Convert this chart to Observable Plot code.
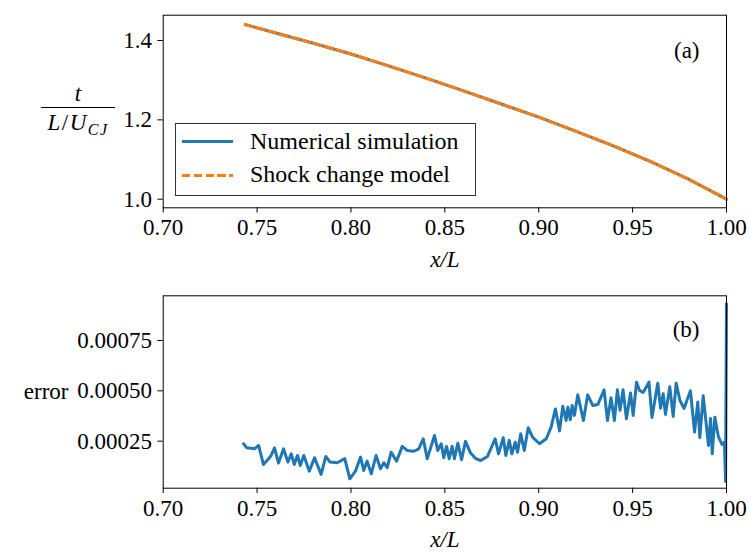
<!DOCTYPE html>
<html><head><meta charset="utf-8">
<script src="https://cdn.jsdelivr.net/npm/d3@7"></script>
<script src="https://cdn.jsdelivr.net/npm/@observablehq/plot@0.6"></script>
<style>
body{margin:0;background:#fff;}
#wrap{position:relative;width:749px;height:552px;overflow:hidden;font-family:"Liberation Serif","Times New Roman",Tinos,"DejaVu Serif",serif;color:#000;background:#fff;}
#wrap svg{display:block;}
#wrap svg text{font-family:"Liberation Serif","Times New Roman",Tinos,"DejaVu Serif",serif;}
.abs{position:absolute;white-space:nowrap;font-size:23px;line-height:23px;}
</style></head><body>
<div id="wrap"></div>
<script>
// ---- data ----
const xTop   = [0.7437,0.76,0.78,0.80,0.82,0.84,0.86,0.88,0.90,0.92,0.94,0.96,0.98,1.00];
const numT   = [1.440,1.419,1.393,1.366,1.336,1.305,1.273,1.240,1.207,1.171,1.134,1.094,1.050,1.000];
const modelT = [1.440,1.419,1.393,1.366,1.336,1.305,1.273,1.240,1.207,1.171,1.134,1.094,1.050,1.000];

const errX = [0.7428,0.7445,0.7486,0.7508,0.7534,0.7561,0.7575,0.7593,0.7614,0.7641,
0.7664,0.7682,0.7698,0.7715,0.7730,0.7749,0.7778,0.7806,0.7841,0.7866,
0.7889,0.7927,0.7967,0.7994,0.8024,0.8051,0.8068,0.8086,0.8108,0.8134,
0.8157,0.8175,0.8193,0.8214,0.8243,0.8273,0.8299,0.8335,0.8361,0.8385,
0.8406,0.8445,0.8462,0.8481,0.8494,0.8509,0.8523,0.8539,0.8551,0.8569,
0.8589,0.8610,0.8637,0.8665,0.8691,0.8727,0.8768,0.8786,0.8811,0.8825,
0.8843,0.8857,0.8875,0.8887,0.8904,0.8923,0.8944,0.8967,0.9004,0.9040,
0.9066,0.9089,0.9111,0.9128,0.9146,0.9155,0.9168,0.9178,0.9190,0.9208,
0.9238,0.9261,0.9288,0.9315,0.9348,0.9366,0.9385,0.9403,0.9419,0.9433,
0.9449,0.9467,0.9489,0.9503,0.9521,0.9537,0.9556,0.9587,0.9603,0.9634,
0.9649,0.9663,0.9675,0.9698,0.9716,0.9732,0.9752,0.9774,0.9808,0.9830,
0.9847,0.9858,0.9876,0.9904,0.9915,0.9924,0.9938,0.9957,0.9976,0.9989,
0.9995,1.0000];
const errY = [2.37e-4,2.17e-4,2.12e-4,2.29e-4,1.34e-4,1.63e-4,1.79e-4,2.17e-4,1.41e-4,2.12e-4,
1.46e-4,1.87e-4,1.34e-4,1.79e-4,1.29e-4,1.79e-4,1.01e-4,1.68e-4,0.85e-4,1.74e-4,
1.46e-4,1.43e-4,1.63e-4,0.63e-4,1.01e-4,1.71e-4,1.04e-4,1.51e-4,0.88e-4,1.79e-4,
1.13e-4,1.43e-4,1.18e-4,1.95e-4,1.51e-4,2.24e-4,2.04e-4,2.00e-4,2.12e-4,2.62e-4,
1.63e-4,2.78e-4,2.04e-4,2.37e-4,1.68e-4,2.24e-4,1.63e-4,2.24e-4,1.63e-4,2.40e-4,
1.58e-4,2.49e-4,1.91e-4,1.63e-4,1.54e-4,1.74e-4,2.62e-4,1.87e-4,2.67e-4,1.79e-4,
2.54e-4,1.87e-4,2.45e-4,1.95e-4,2.87e-4,2.04e-4,3.17e-4,2.70e-4,2.37e-4,2.62e-4,
3.20e-4,4.10e-4,3.01e-4,4.23e-4,3.53e-4,4.19e-4,3.56e-4,4.27e-4,3.78e-4,4.80e-4,
3.53e-4,4.80e-4,4.27e-4,4.32e-4,5.05e-4,3.53e-4,4.66e-4,3.53e-4,5.05e-4,4.03e-4,
5.05e-4,3.61e-4,4.89e-4,3.78e-4,5.43e-4,5.02e-4,4.92e-4,5.43e-4,3.68e-4,5.38e-4,
4.13e-4,4.86e-4,3.83e-4,5.20e-4,3.73e-4,5.38e-4,4.52e-4,4.13e-4,5.00e-4,2.95e-4,
4.44e-4,2.68e-4,4.75e-4,2.29e-4,3.63e-4,1.87e-4,3.69e-4,2.71e-4,2.34e-4,2.45e-4,
0.50e-4,9.33e-4];

const xTicks   = [0.70,0.75,0.80,0.85,0.90,0.95,1.00];
const tTicks   = [1.0,1.2,1.4];
const errTicks = [0.00025,0.00050,0.00075];
const seriesNames = ["Numerical simulation","Shock change model"];
const panelLabels = ["(a)","(b)"];
const xLabel = "x/L";
const errLabel = "error";
const blue = "#1f77b4", orange = "#ff7f0e";

const topRows = xTop.map((x,i)=>({x, num:numT[i], model:modelT[i]}));
const errRows = errX.map((x,i)=>({x, e:errY[i]}));

const FONT = '"Liberation Serif","Times New Roman",Tinos,"DejaVu Serif",serif';
const common = {
  width: 749, height: 276,
  marginLeft: 162.7, marginRight: 23,
  style: {fontFamily:FONT, fontSize:"23px", color:"black", background:"white", overflow:"visible"}
};
const xScale = {domain:[0.7,1.0], ticks:xTicks, tickFormat:d3.format(".2f"), tickSize:5.3, tickPadding:6, label:null};

const topPlot = Plot.plot({
  ...common,
  marginTop: 14.7, marginBottom: 68.7,
  x: xScale,
  y: {domain:[0.9783,1.4638], ticks:tTicks, tickFormat:d3.format(".1f"), tickSize:5.3, tickPadding:6, label:null},
  marks: [
    Plot.line(topRows, {x:"x", y:"num", stroke:blue, strokeWidth:3}),
    Plot.line(topRows, {x:"x", y:"model", stroke:orange, strokeWidth:3, strokeDasharray:"8.2,3.6"}),
    Plot.frame({stroke:"black", strokeWidth:1}),
    Plot.text([panelLabels[0]], {text:d=>d, frameAnchor:"top-right", dx:-27, dy:35, textAnchor:"end", lineAnchor:"middle"}),
    Plot.text([xLabel], {text:d=>d, frameAnchor:"bottom", dy:58.7, lineAnchor:"bottom", fontStyle:"italic"})
  ]
});

const bottomPlot = Plot.plot({
  ...common,
  marginTop: 19.3, marginBottom: 64.3,
  x: xScale,
  y: {domain:[0.0000164,0.000972], ticks:errTicks, tickFormat:d3.format(".5f"), tickSize:5.3, tickPadding:6, label:null},
  marks: [
    Plot.line(errRows, {x:"x", y:"e", stroke:blue, strokeWidth:3, strokeLinejoin:"round"}),
    Plot.frame({stroke:"black", strokeWidth:1}),
    Plot.text([panelLabels[1]], {text:d=>d, frameAnchor:"top-right", dx:-27, dy:34, textAnchor:"end", lineAnchor:"middle"}),
    Plot.text([xLabel], {text:d=>d, frameAnchor:"bottom", dy:58.7, lineAnchor:"bottom", fontStyle:"italic"}),
    Plot.text([errLabel], {text:d=>d, frameAnchor:"left", dx:-94.7, textAnchor:"end", lineAnchor:"middle"})
  ]
});

const wrap = document.getElementById("wrap");
wrap.appendChild(topPlot);
wrap.appendChild(bottomPlot);

function addDiv(html, css){
  const d = document.createElement("div");
  d.className = "abs";
  d.innerHTML = html;
  Object.assign(d.style, css);
  wrap.appendChild(d);
  return d;
}
// fraction y-label  t / (L/U_CJ)
addDiv('<span style="font-style:italic">t</span>', {left:"41px", width:"74px", textAlign:"center", top:"81.7px"});
addDiv('', {left:"41px", width:"74px", top:"106.6px", height:"1.5px", background:"black"});
addDiv('<span style="font-style:italic">L</span>/<span style="font-style:italic">U</span><span style="font-style:italic;font-size:16px;line-height:0;vertical-align:-5px">CJ</span>',
  {left:"38px", width:"80px", textAlign:"center", top:"110.7px", letterSpacing:"1.5px"});

// legend
addDiv('', {left:"175px", top:"122.5px", width:"301px", height:"73.5px", border:"1px solid #333", boxSizing:"border-box", background:"rgba(255,255,255,0.8)"});
addDiv('', {left:"182px", top:"140px", width:"51px", height:"3px", background:blue});
addDiv('', {left:"182px", top:"173.5px", width:"51px", height:"3px", background:`repeating-linear-gradient(to right, ${orange} 0 8.2px, transparent 8.2px 11.8px)`});
addDiv(seriesNames[0], {left:"250px", top:"128.9px", fontSize:"24px", lineHeight:"24px"});
addDiv(seriesNames[1], {left:"250px", top:"162.4px", fontSize:"24px", lineHeight:"24px"});
</script>
</body></html>
